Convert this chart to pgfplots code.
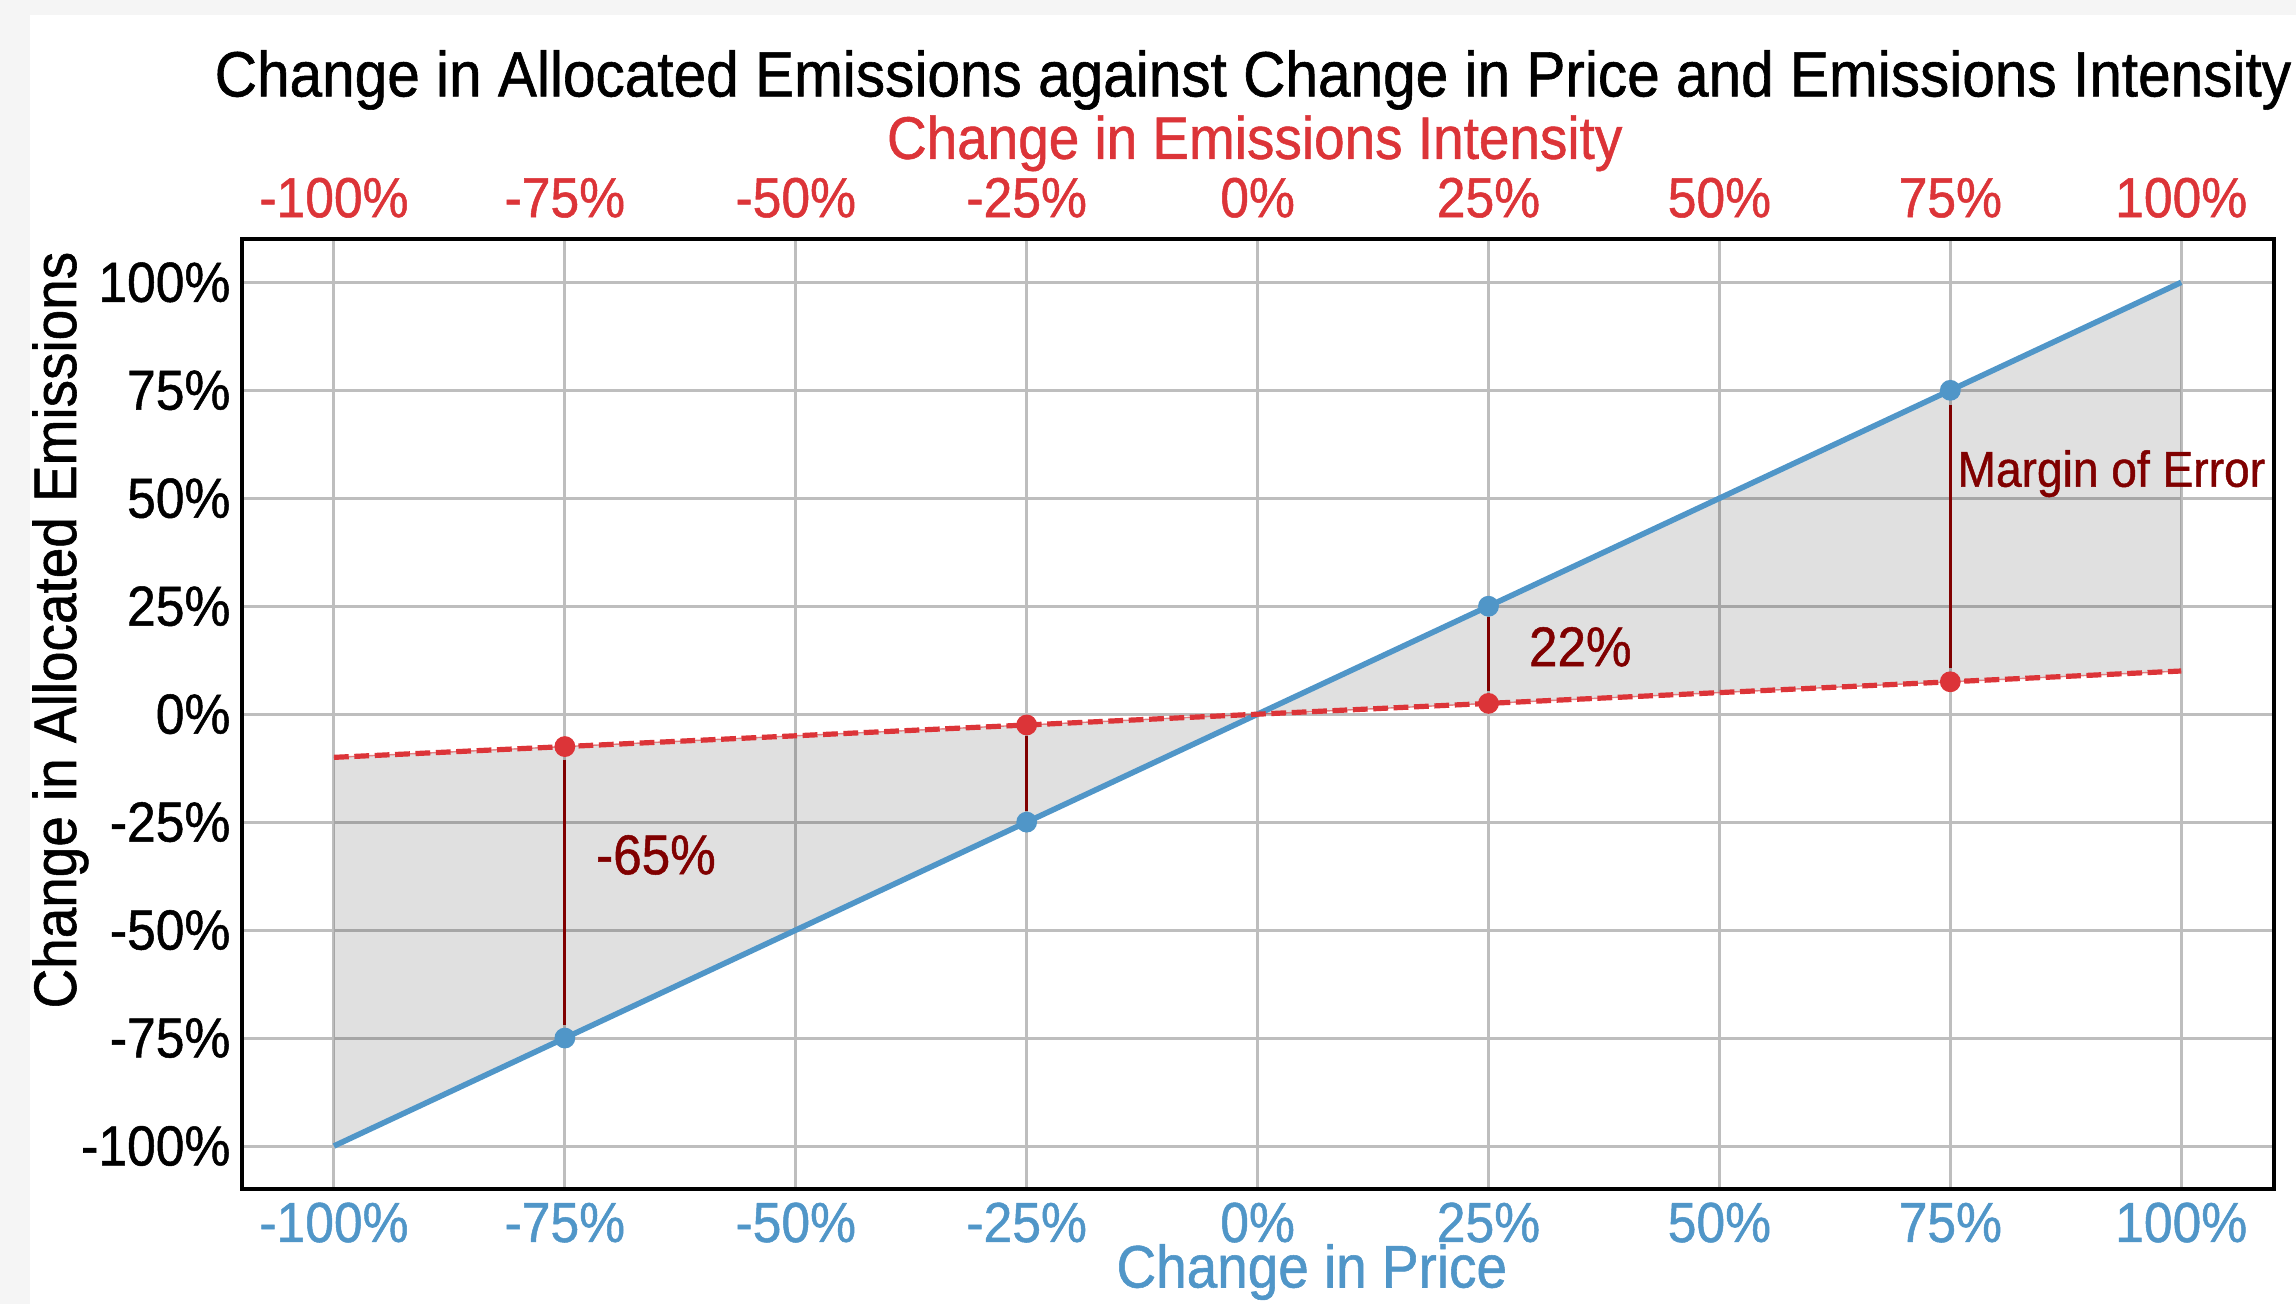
\documentclass[border=0pt]{standalone}
\usepackage{pgfplots}
\pgfplotsset{compat=1.18}
\usepackage{fontspec}
\setmainfont{Liberation Sans}[FakeStretch=0.915, RawFeature={embolden=0.9}]
\definecolor{cblue}{RGB}{80,150,200}
\definecolor{cred}{RGB}{220,52,56}
\definecolor{cdark}{RGB}{128,0,0}
\definecolor{cgrid}{RGB}{190,190,190}
\definecolor{cbg}{RGB}{245,245,245}
\begin{document}
\begin{tikzpicture}
\fill[cbg] (-60.4pt,-28.7pt) rectangle (513.6pt,297.3pt);
\fill[white] (-52.9pt,-28.7pt) rectangle (513.6pt,293.55pt);
\begin{axis}[at={(0,0)}, anchor=south west, scale only axis,
  width=508pt, height=237.5pt,
  xmin=-110, xmax=110, ymin=-110, ymax=110,
  xtick={-100,-75,-50,-25,0,25,50,75,100},
  ytick={-100,-75,-50,-25,0,25,50,75,100},
  xticklabels={-100\%,-75\%,-50\%,-25\%,0\%,25\%,50\%,75\%,100\%},
  yticklabels={-100\%,-75\%,-50\%,-25\%,0\%,25\%,50\%,75\%,100\%},
  grid=major, major grid style={cgrid, line width=0.75pt},
  major tick length=0pt,
  axis line style={line width=1pt},
  ticklabel style={font=\fontsize{14.1}{16}\selectfont},
  xticklabel style={cblue, anchor=base, yshift=-13.2pt},
  yticklabel style={black, anchor=east, inner sep=0pt, xshift=-2.6pt},
  xlabel={Change in Price},
  xlabel style={cblue, font=\fontsize{15}{17}\selectfont, at={(axis description cs:0.5267,-0.1035)}, anchor=base},
  ylabel={Change in Allocated Emissions},
  ylabel style={black, font=\fontsize{15}{17}\selectfont, at={(axis description cs:-0.0815,0.5886)}, anchor=base},
  title={Change in Allocated Emissions against Change in Price and Emissions Intensity},
  title style={font=\fontsize{16}{18}\selectfont, at={(axis description cs:0.4978,1.1250)}, anchor=base},
]
\addplot[draw=none, fill=black, fill opacity=0.12] coordinates {(-100,-100) (100,100) (100,10) (-100,-10)} -- cycle;
\addplot[cblue, line width=1.4pt] coordinates {(-100,-100) (100,100)};
\addplot[cred, line width=0.35pt, opacity=0.6] coordinates {(-100,-10) (100,10)};
\addplot[cred, line width=1.3pt, dash pattern=on 3.7pt off 1.4pt] coordinates {(-100,-10) (100,10)};
\addplot[cdark, line width=0.7pt] coordinates {(-75,-10.5) (-75,-72)};
\addplot[cdark, line width=0.7pt] coordinates {(-25,-5) (-25,-22.5)};
\addplot[cdark, line width=0.7pt] coordinates {(25,22.5) (25,5.3)};
\addplot[cdark, line width=0.7pt] coordinates {(75,71.5) (75,10.8)};
\addplot[only marks, mark=*, mark size=2.4pt, cblue] coordinates {(-75,-75) (-25,-25) (25,25) (75,75)};
\addplot[only marks, mark=*, mark size=2.4pt, cred] coordinates {(-75,-7.5) (-25,-2.5) (25,2.5) (75,7.5)};
\node[cdark, anchor=west, inner sep=0pt, font=\fontsize{14}{16}\selectfont] at (axis cs:-71.7,-32.6) {-65\%};
\node[cdark, anchor=west, inner sep=0pt, font=\fontsize{14}{16}\selectfont] at (axis cs:29.3,15.6) {22\%};
\node[cdark, anchor=west, inner sep=0pt, font=\fontsize{12.6}{15}\selectfont] at (axis cs:75.7,55.7) {Margin of Error};
\end{axis}
\begin{axis}[at={(0,0)}, anchor=south west, scale only axis,
  width=508pt, height=237.5pt,
  xmin=-110, xmax=110, ymin=-110, ymax=110,
  axis x line*=top, hide y axis,
  axis line style={draw=none},
  xtick={-100,-75,-50,-25,0,25,50,75,100},
  xticklabels={-100\%,-75\%,-50\%,-25\%,0\%,25\%,50\%,75\%,100\%},
  major tick length=0pt,
  xticklabel style={cred, font=\fontsize{14.1}{16}\selectfont, anchor=base, yshift=5.5pt},
  xlabel={Change in Emissions Intensity},
  xlabel style={cred, font=\fontsize{15}{17}\selectfont, at={(axis description cs:0.4986,1.0846)}, anchor=base},
]
\addplot[draw=none] coordinates {(0,0)};
\end{axis}
\pgfresetboundingbox
\useasboundingbox (-60.4pt,-28.7pt) rectangle (513.6pt,297.3pt);
\end{tikzpicture}
\end{document}
